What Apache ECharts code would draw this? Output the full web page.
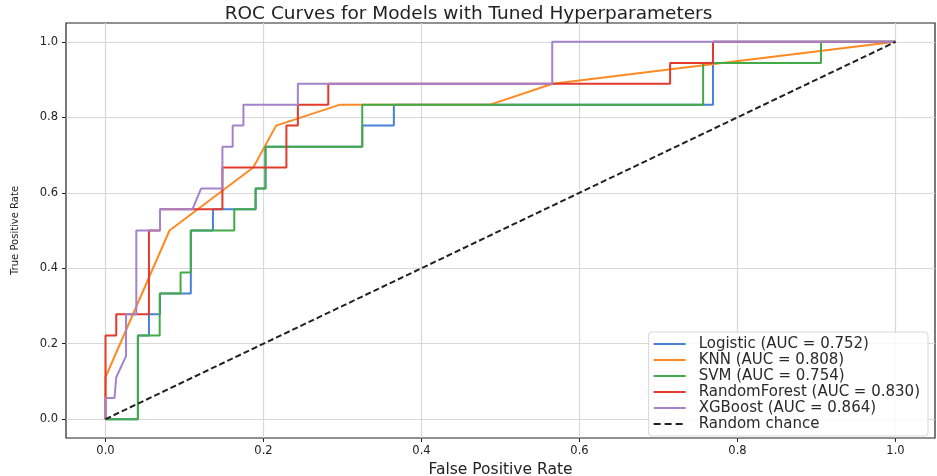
<!DOCTYPE html>
<html>
<head>
<meta charset="utf-8">
<script src="https://cdn.jsdelivr.net/npm/echarts@6/dist/echarts.min.js"></script>
<style>html,body{margin:0;padding:0;background:#fff;}#c{width:937px;height:476px;}</style>
</head>
<body>
<div id="c"></div>
<script>
const tickValues = [0, 0.2, 0.4, 0.6, 0.8, 1.0];

const logisticPts = [[0,0],[0.041,0],[0.041,0.222],[0.055,0.222],[0.055,0.278],[0.069,0.278],[0.069,0.333],[0.108,0.333],[0.108,0.5],[0.136,0.5],[0.136,0.556],[0.190,0.556],[0.190,0.611],[0.2025,0.611],[0.2025,0.722],[0.325,0.722],[0.325,0.778],[0.365,0.778],[0.365,0.833],[0.769,0.833],[0.769,1],[1,1]];
const knnPts = [[0,0],[0,0.111],[0.081,0.5],[0.187,0.667],[0.216,0.778],[0.296,0.833],[0.486,0.833],[0.566,0.889],[1,1]];
const svmPts = [[0,0],[0.041,0],[0.041,0.222],[0.0686,0.222],[0.0686,0.333],[0.095,0.333],[0.095,0.389],[0.108,0.389],[0.108,0.5],[0.163,0.5],[0.163,0.556],[0.190,0.556],[0.190,0.611],[0.2025,0.611],[0.2025,0.722],[0.325,0.722],[0.325,0.833],[0.7565,0.833],[0.7565,0.944],[0.9057,0.944],[0.9057,1],[1,1]];
const rfPts = [[0,0],[0,0.222],[0.0136,0.222],[0.0136,0.278],[0.055,0.278],[0.055,0.5],[0.069,0.5],[0.069,0.556],[0.148,0.556],[0.148,0.667],[0.229,0.667],[0.229,0.778],[0.2435,0.778],[0.2435,0.833],[0.282,0.833],[0.282,0.889],[0.7147,0.889],[0.7147,0.944],[0.769,0.944],[0.769,1],[1,1]];
const xgbPts = [[0,0],[0,0.056],[0.0114,0.056],[0.0136,0.111],[0.026,0.167],[0.026,0.278],[0.039,0.278],[0.039,0.5],[0.069,0.5],[0.069,0.556],[0.110,0.556],[0.121,0.611],[0.148,0.611],[0.148,0.722],[0.161,0.722],[0.161,0.778],[0.1746,0.778],[0.1746,0.833],[0.2435,0.833],[0.2435,0.889],[0.5655,0.889],[0.5655,1],[1,1]];
const chancePts = [[0,0],[1,1]];

const seriesNames = ['Logistic (AUC = 0.752)','KNN (AUC = 0.808)','SVM (AUC = 0.754)','RandomForest (AUC = 0.830)','XGBoost (AUC = 0.864)','Random chance'];
const seriesColors = ['#4682d6','#ff8a24','#42aa46','#e23a2c','#a283cc','#222222'];
const seriesData = [logisticPts, knnPts, svmPts, rfPts, xgbPts, chancePts];

const solidIcon = 'path://M0,0L32,0L32,2L0,2Z';
const dashIcon = 'path://M0,0h7v2h-7z M11,0h7v2h-7z M22,0h7v2h-7z M32,0h0v2h0z';

const font = 'DejaVu Sans';
const chart = echarts.init(document.getElementById('c'), null, {renderer:'canvas'});
chart.setOption({
  animation: false,
  backgroundColor: '#fff',
  title: {
    text: 'ROC Curves for Models with Tuned Hyperparameters',
    left: 'center', top: 0,
    textStyle: {fontFamily: font, fontSize: 18.5, fontWeight: 'normal', color: '#222'}
  },
  grid: {left: 66, right: 2, top: 23, bottom: 38, outerBoundsMode: 'none', containLabel: false, show: true, borderColor: '#222', borderWidth: 1.2, backgroundColor: 'transparent'},
  legend: {
    orient: 'vertical', right: 9, bottom: 40,
    itemWidth: 32, itemHeight: 10, itemGap: 0,
    symbolKeepAspect: true,
    padding: [4, 8, 4, 5],
    backgroundColor: 'rgba(255,255,255,0.85)', borderColor: '#d6d6d6', borderWidth: 1, borderRadius: 3,
    textStyle: {fontFamily: font, fontSize: 15, lineHeight: 16, color: '#2a2a2a', padding: [0, 0, 0, 8]},
    data: seriesNames.map((n, i) => ({name: n, icon: i === 5 ? dashIcon : solidIcon}))
  },
  xAxis: {
    type: 'value', min: -0.05, max: 1.05,
    name: 'False Positive Rate', nameLocation: 'middle', nameGap: 15,
    nameTextStyle: {fontFamily: font, fontSize: 15.5, color: '#222', verticalAlign: 'top'},
    axisLine: {show: false, onZero: false},
    axisTick: {show: true, customValues: tickValues, length: 4, lineStyle: {color: '#222'}},
    axisLabel: {customValues: tickValues, formatter: v => v.toFixed(1), fontFamily: font, fontSize: 11.5, color: '#222', margin: 7},
    splitLine: {show: true, lineStyle: {color: '#d8d8d8', width: 1.2}}
  },
  yAxis: {
    type: 'value', min: -0.05, max: 1.05,
    name: 'True Positive Rate', nameLocation: 'middle', nameGap: 46,
    nameTextStyle: {fontFamily: font, fontSize: 10, color: '#222'},
    axisLine: {show: false, onZero: false},
    axisTick: {show: true, customValues: tickValues, length: 4, lineStyle: {color: '#222'}},
    axisLabel: {customValues: tickValues, formatter: v => v.toFixed(1), fontFamily: font, fontSize: 11.5, color: '#222', margin: 8},
    splitLine: {show: true, lineStyle: {color: '#d8d8d8', width: 1.2}}
  },
  series: seriesData.map((d, i) => ({
    name: seriesNames[i], type: 'line', data: d, symbol: 'none', showSymbol: false,
    color: seriesColors[i],
    itemStyle: {color: seriesColors[i]},
    lineStyle: {color: seriesColors[i], width: 2, type: i === 5 ? [6, 3] : 'solid'},
    z: 2 + i
  }))
});
</script>
</body>
</html>
